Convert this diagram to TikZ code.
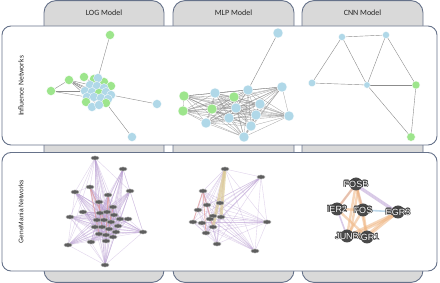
\documentclass[tikz,border=0pt]{standalone}
\usepackage{fontspec}
\setmainfont{Carlito}
\newfontfamily\arialf{Liberation Sans}
\usetikzlibrary{shapes.geometric}
\definecolor{tabfill}{HTML}{D9D9D9}
\definecolor{frame}{HTML}{66728A}
\definecolor{ngreen}{HTML}{9DE58C}
\definecolor{nblue}{HTML}{B0D8E8}
\definecolor{iedge}{HTML}{8C8C8C}
\definecolor{gmpurple}{HTML}{BBA0D4}
\definecolor{gmred}{HTML}{E59A95}
\definecolor{gmbeige}{HTML}{DDCC96}
\definecolor{gmorange}{HTML}{F0B682}
\definecolor{gmblue}{HTML}{A3C8E2}
\definecolor{gmnode}{HTML}{5E5E5E}
\definecolor{bignodec}{HTML}{4A4A4A}
\definecolor{halo}{HTML}{3A3A3A}
\pgfdeclarelayer{bg}
\pgfdeclarelayer{edges}
\pgfsetlayers{bg,edges,main}
\newcommand\halotext[1]{\setbox0=\hbox{#1}%
\rlap{\color{halo}\raisebox{0.7pt}{\copy0}}%
\rlap{\color{halo}\raisebox{-0.7pt}{\copy0}}%
\rlap{\color{halo}\kern0.7pt\copy0}%
\rlap{\color{halo}\kern-0.7pt\copy0}%
\rlap{\color{halo}\kern0.5pt\raisebox{0.5pt}{\copy0}}%
\rlap{\color{halo}\kern-0.5pt\raisebox{0.5pt}{\copy0}}%
\rlap{\color{halo}\kern0.5pt\raisebox{-0.5pt}{\copy0}}%
\rlap{\color{halo}\kern-0.5pt\raisebox{-0.5pt}{\copy0}}%
{\color{white}\box0}}
\tikzset{
  tabbox/.style={draw=frame, fill=tabfill, line width=0.9pt, rounded corners=12pt},
  panelbox/.style={draw=frame, fill=white, line width=0.9pt, rounded corners=9pt},
  tablabel/.style={font=\fontsize{8}{9}\selectfont, text=black!85},
  rowlabel/.style={rotate=90, text=black!85},
  infnode/.style={circle, draw=white, line width=0.3pt, inner sep=0pt, minimum size=#1},
  infnode/.default=9pt,
  ie/.style={draw=iedge, line width=0.4pt},
  iem/.style={draw=black!45, line width=0.3pt, opacity=0.8},
  gmn/.style={ellipse, fill=gmnode, draw=black!35, line width=0.5pt, inner sep=0pt, minimum width=8pt, minimum height=4pt},
  gmp/.style={draw=gmpurple, line width=0.4pt, opacity=0.45},
  gmr/.style={draw=gmred, line width=0.9pt, opacity=0.65},
  gmb/.style={draw=gmbeige, line width=3pt, opacity=0.7},
  gmo/.style={draw=gmorange, line width=2.4pt, opacity=0.55},
  gmpw/.style={draw=gmpurple, line width=1.6pt, opacity=0.55},
  gmbl/.style={draw=gmblue, line width=1.6pt, opacity=0.7},
  bignode/.style={circle, fill=bignodec, inner sep=0pt, minimum size=13pt},
  genelabel/.style={font=\arialf\fontsize{9}{10}\selectfont, inner sep=0pt}
}
\begin{document}
\begin{tikzpicture}[x=1pt, y=-1pt]
\useasboundingbox (0,0) rectangle (440,283);
% ---------- tabs and panels ----------
\begin{pgfonlayer}{bg}
\draw[tabbox] (44,0.6) rectangle (164,282.4);
\draw[tabbox] (173,0.6) rectangle (294,282.4);
\draw[tabbox] (302,0.6) rectangle (423,282.4);
\draw[panelbox] (2,26) rectangle (437,145);
\draw[panelbox] (2,152.5) rectangle (437,271);
\end{pgfonlayer}
\node[tablabel] (tlog) at (104,13) {LOG Model};
\node[tablabel] (tmlp) at (233.5,13) {MLP Model};
\node[tablabel] (tcnn) at (362.5,13) {CNN Model};
\node[rowlabel, font=\fontsize{7.6}{9}\selectfont] (rinf) at (21,86) {Influence Networks};
\node[rowlabel, font=\arialf\fontsize{6.6}{8}\selectfont] (rgm) at (21,211.5) {GeneMania Networks};

% ---------- LOG influence ----------
\foreach \n/\x/\y/\c in {lt/110/35/ngreen, ll/51/91/ngreen, lr/157/104/nblue, lb/132/137/nblue,
  c1/69/80/ngreen, c2/84/77/ngreen, c3/94/79/ngreen, c4/104/82/ngreen, c5/111/86/ngreen,
  c6/98/78/nblue, c7/90/85/nblue, c8/97/86/nblue, c9/104/88/nblue, c10/85/91/nblue,
  c11/92/92/nblue, c12/99/93/ngreen, c13/106/92/nblue, c14/111/95/nblue, c15/87/97/nblue,
  c16/94/97/nblue, c17/101/98/nblue, c18/108/99/nblue, c19/86/102/ngreen, c20/106/103/ngreen,
  c21/92/107/nblue, c22/99/105/nblue}
  \node[infnode, fill=\c] (\n) at (\x,\y) {};
\begin{pgfonlayer}{edges}
\foreach \a/\b in {lt/c6, ll/c1, ll/c10, ll/c15, lr/c14, lb/c20,
  c1/c7, c1/c10, c1/c11, c1/c15, c1/c12, c1/c16, c2/c8, c3/c9, c4/c13, c5/c17, c7/c18, c10/c14, c15/c22}
  \draw[ie] (\a) -- (\b);
\end{pgfonlayer}

% ---------- MLP influence ----------
\foreach \n/\x/\y/\c in {mt/278/33/nblue, m1/184/96/ngreen, m2/183/111/ngreen, m3/215/93/nblue,
  m4/234/97/ngreen, m5/248/90/nblue, m6/282/87/nblue, m7/212/109/ngreen, m8/236/108/nblue,
  m9/260/104/nblue, m10/256/115/nblue, m11/229/118/nblue, m12/251/126/nblue, m13/206/123/nblue,
  m14/289/116/nblue, m15/244/137/nblue}
  \node[infnode=10pt, fill=\c] (\n) at (\x,\y) {};
\begin{pgfonlayer}{edges}
\draw[ie] (mt) -- (m5);
\foreach \i in {1,...,14}{
  \pgfmathtruncatemacro\s{\i+1}
  \foreach \j in {\s,...,15}{\draw[iem] (m\i) -- (m\j);}
}
\end{pgfonlayer}

% ---------- CNN influence ----------
\node[infnode=7pt, fill=nblue] (na) at (342,37) {};
\node[infnode=7pt, fill=nblue] (nb) at (386,35) {};
\node[infnode=7.5pt, fill=nblue] (nc) at (312,83) {};
\node[infnode=6.5pt, fill=nblue] (nd) at (367,85) {};
\node[infnode=8pt, fill=ngreen] (ne) at (416,85) {};
\node[infnode=8.5pt, fill=ngreen] (nf) at (411,137) {};
\begin{pgfonlayer}{edges}
\foreach \a/\b in {na/nb, na/nc, na/nd, nb/nd, nb/ne, nc/nd, nd/ne, nd/nf, ne/nf}
  \draw[ie] (\a) -- (\b);
\end{pgfonlayer}

% ---------- LOG GeneMania ----------
\foreach \n/\x/\y in {g1/95/158, g2/123/169, g3/90/187, g4/75/192, g5/130/191, g6/108/195,
  g7/99/202, g8/113/207, g9/83/212, g10/70/217, g11/128/219, g12/143/232, g13/68/245,
  g14/91/242, g15/106/241, g16/105/265,
  k1/100/213, k2/107/212, k3/114/215, k4/120/219, k5/97/220, k6/104/220, k7/111/222,
  k8/118/226, k9/95/227, k10/102/227, k11/109/229, k12/116/232, k13/99/234, k14/106/235, k15/113/237}
  \node[gmn] (\n) at (\x,\y) {};
\begin{pgfonlayer}{edges}
\foreach \p in {g1,g2,g3,g4,g5,g6,g7,g8,g9,g10,g11,g12,g13,g14,g15,g16}
  \foreach \k in {k1,k2,k3,k4,k5,k6,k7,k8,k9,k10,k11,k12,k13,k14,k15}
    \draw[gmp] (\p) -- (\k);
\foreach \a/\b in {g1/g4, g1/g10, g1/g5, g1/g3, g2/g5, g2/g12, g2/g6, g13/g16, g10/g16, g12/g16,
  g4/g13, g1/g13, g4/g9, g5/g12, g9/g13, g14/g16, g3/g4, g10/g14, g11/g12, g1/g16, g2/g16, g4/g12}
  \draw[gmp] (\a) -- (\b);
\foreach \a/\b in {g3/k6, g6/k14, g7/k10, g6/k7, g3/k13, g8/k11}
  \draw[gmr] (\a) -- (\b);
\end{pgfonlayer}

% ---------- MLP GeneMania ----------
\foreach \n/\x/\y in {h1/225/169, h2/261/177, h3/203/191, h4/267/222, h5/217/244, h6/255/251, h7/206/233,
  q1/220/203, q2/207/205, q3/198/210, q4/213/216, q5/221/217, q6/193/222, q7/202/223, q8/210/219, q9/213/227}
  \node[gmn] (\n) at (\x,\y) {};
\begin{pgfonlayer}{edges}
\foreach \p in {h1,h2,h3,h4,h5,h6,h7}
  \foreach \k in {q1,q2,q3,q4,q5,q6,q7,q8,q9}
    \draw[gmp] (\p) -- (\k);
\foreach \a/\b in {h1/h2, h2/h4, h2/h6, h4/h6, h1/h4, h1/h6, h1/h5, h3/h6, h2/h5, h2/h7, h4/h5, h4/h7, h3/h4, h1/h3}
  \draw[gmp] (\a) -- (\b);
\foreach \a/\b in {h1/q9, h1/q5}
  \draw[gmb] (\a) -- (\b);
\foreach \a/\b in {h3/h7, h3/q9, h3/q6}
  \draw[gmr] (\a) -- (\b);
\end{pgfonlayer}

% ---------- CNN GeneMania ----------
\node[bignode] (FOSB) at (356,184) {};
\node[bignode] (IER2) at (337,209) {};
\node[bignode] (FOS) at (363,210) {};
\node[bignode] (EGR3) at (398,212) {};
\node[bignode] (EGR1) at (367,237) {};
\node[bignode] (JUNB) at (347,236) {};
\begin{pgfonlayer}{edges}
\foreach \a/\b in {FOSB/EGR3, IER2/FOSB, IER2/JUNB, FOSB/FOS}
  \draw[gmpw] (\a.center) -- (\b.center);
\draw[gmpw] ([yshift=-2pt]FOSB.center) -- ([yshift=-2pt]EGR3.center);
\foreach \a/\b in {FOSB/IER2, FOSB/JUNB, FOSB/EGR1, IER2/FOS, FOS/JUNB, FOS/EGR1,
  JUNB/EGR1, EGR1/EGR3, JUNB/EGR3, IER2/EGR1, FOSB/FOS}
  \draw[gmo] (\a.center) -- (\b.center);
\draw[gmbl] (FOS.center) -- (EGR3.center);
\draw[gmo] ([yshift=2pt]EGR1.center) -- ([yshift=3pt]EGR3.center);
\draw[gmo] ([yshift=-2pt]JUNB.center) -- ([yshift=-2pt]EGR3.center);
\draw[gmo] ([xshift=3pt]FOSB.center) -- ([xshift=3pt]JUNB.center);
\end{pgfonlayer}
\node[genelabel] (lFOSB) at (FOSB) {\halotext{FOSB}};
\node[genelabel] (lIER2) at (IER2) {\halotext{IER2}};
\node[genelabel] (lFOS) at (FOS) {\halotext{FOS}};
\node[genelabel] (lEGR3) at (EGR3) {\halotext{EGR3}};
\begin{scope}
\clip (359.5,228) rectangle (385,246);
\node[genelabel] (lEGR1) at (EGR1) {\halotext{EGR1}};
\end{scope}
\node[genelabel] (lJUNB) at (JUNB) {\halotext{JUNB}};
\end{tikzpicture}
\end{document}
